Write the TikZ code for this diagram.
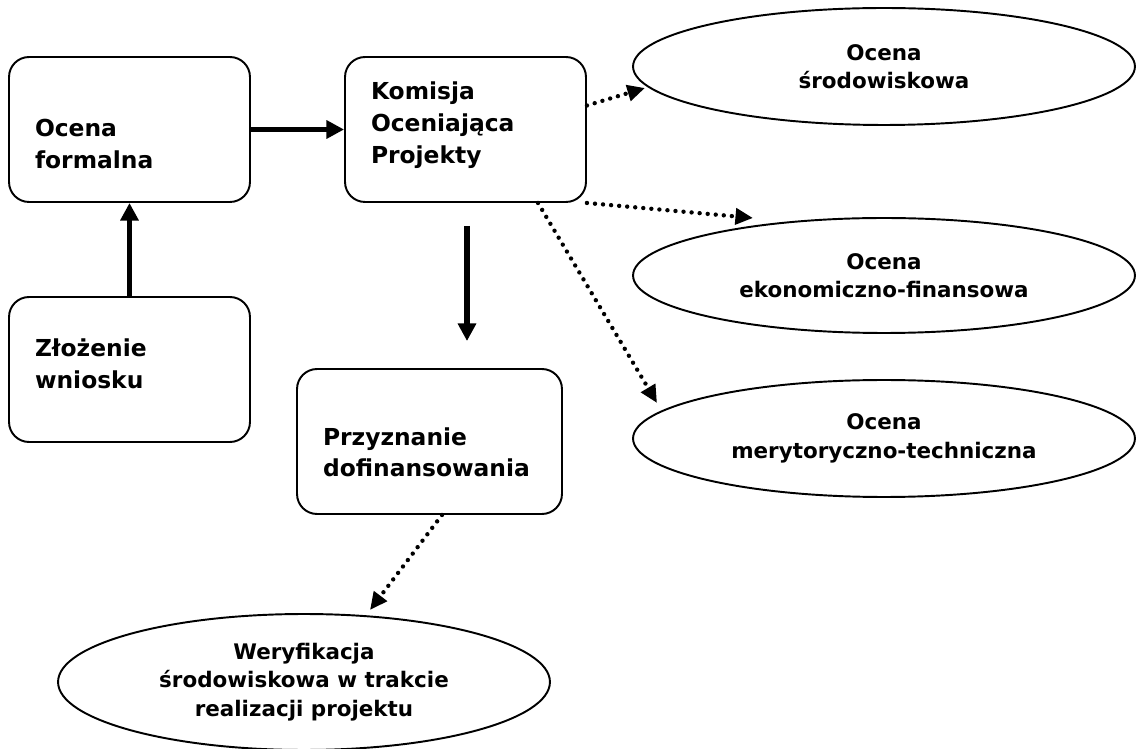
\documentclass[tikz,border=0pt]{standalone}
\usepackage{fontspec}
\setmainfont{DejaVu Sans}
\usetikzlibrary{arrows.meta,shapes.geometric,calc}

\begin{document}
\begin{tikzpicture}[x=0.02cm,y=-0.02cm,
    box/.style={draw, line width=1.1pt, rounded corners=0.4cm,
        inner xsep=0.52cm, inner ysep=0pt, minimum width=4.82cm,
        minimum height=2.9cm, text width=3.78cm, align=left,
        font=\fontsize{13.3}{18.2}\selectfont\bfseries},
    oval/.style={draw, ellipse, line width=1.1pt, inner sep=0pt,
        minimum width=10.04cm, minimum height=2.34cm, align=center,
        font=\fontsize{12.2}{16.2}\selectfont\bfseries},
    flow/.style={line width=3pt, -{Triangle[length=10pt,width=10pt]}},
    dots/.style={line width=2.5pt, line cap=round, dash pattern=on 0pt off 4.6pt,
        -{Triangle[length=10pt,width=9pt]}}]

\useasboundingbox (0,0) rectangle (1136,749);

% boxes
\node[box, text height=20pt, text depth=11.5pt] (formalna) at (129.5,129.5) {Ocena\\formalna};
\node[box, text height=10pt, text depth=24.6pt] (zlozenie) at (129.5,369.5) {Złożenie\\wniosku};
\node[box, text height=10pt, text depth=44.6pt] (komisja) at (465.5,129.5) {Komisja\\Oceniająca\\Projekty};
\node[box, text height=15pt, text depth=11pt, minimum width=5.3cm, text width=4.26cm]
    (przyznanie) at (429.5,441.5) {Przyznanie\\dofinansowania};

% ovals
\node[oval] (srodowiskowa) at (884,66.5) {Ocena\\środowiskowa};
\node[oval, minimum height=2.3cm] (ekonomiczna) at (884,275.5) {Ocena\\ekonomiczno-finansowa};
\node[oval] (merytoryczna) at (884,438.5) {Ocena\\merytoryczno-techniczna};
\node[oval, minimum width=9.84cm, minimum height=2.72cm]
    (weryfikacja) at (304,682) {Weryfikacja\\środowiskowa w trakcie\\realizacji projektu};

% solid arrows
\draw[flow] (zlozenie) -- (formalna);
\draw[flow] (formalna) -- (komisja);
\draw[flow] ($(komisja.south)+(1.5,23)$) -- ($(przyznanie.north)+(37.5,-27)$);

% dotted arrows
\draw[dots] ($(komisja.east)+(0,-24)$) -- ($(srodowiskowa)+(-239,21.5)$);
\draw[dots] (komisja.south east) -- ($(ekonomiczna)+(-131,-57.5)$);
\draw[dots] ($(komisja.south)+(72.5,0)$) -- ($(merytoryczna)+(-227,-35.5)$);
\draw[dots] ($(przyznanie.south)+(12.5,0)$) -- ($(weryfikacja)+(66,-72)$);

\end{tikzpicture}
\end{document}
